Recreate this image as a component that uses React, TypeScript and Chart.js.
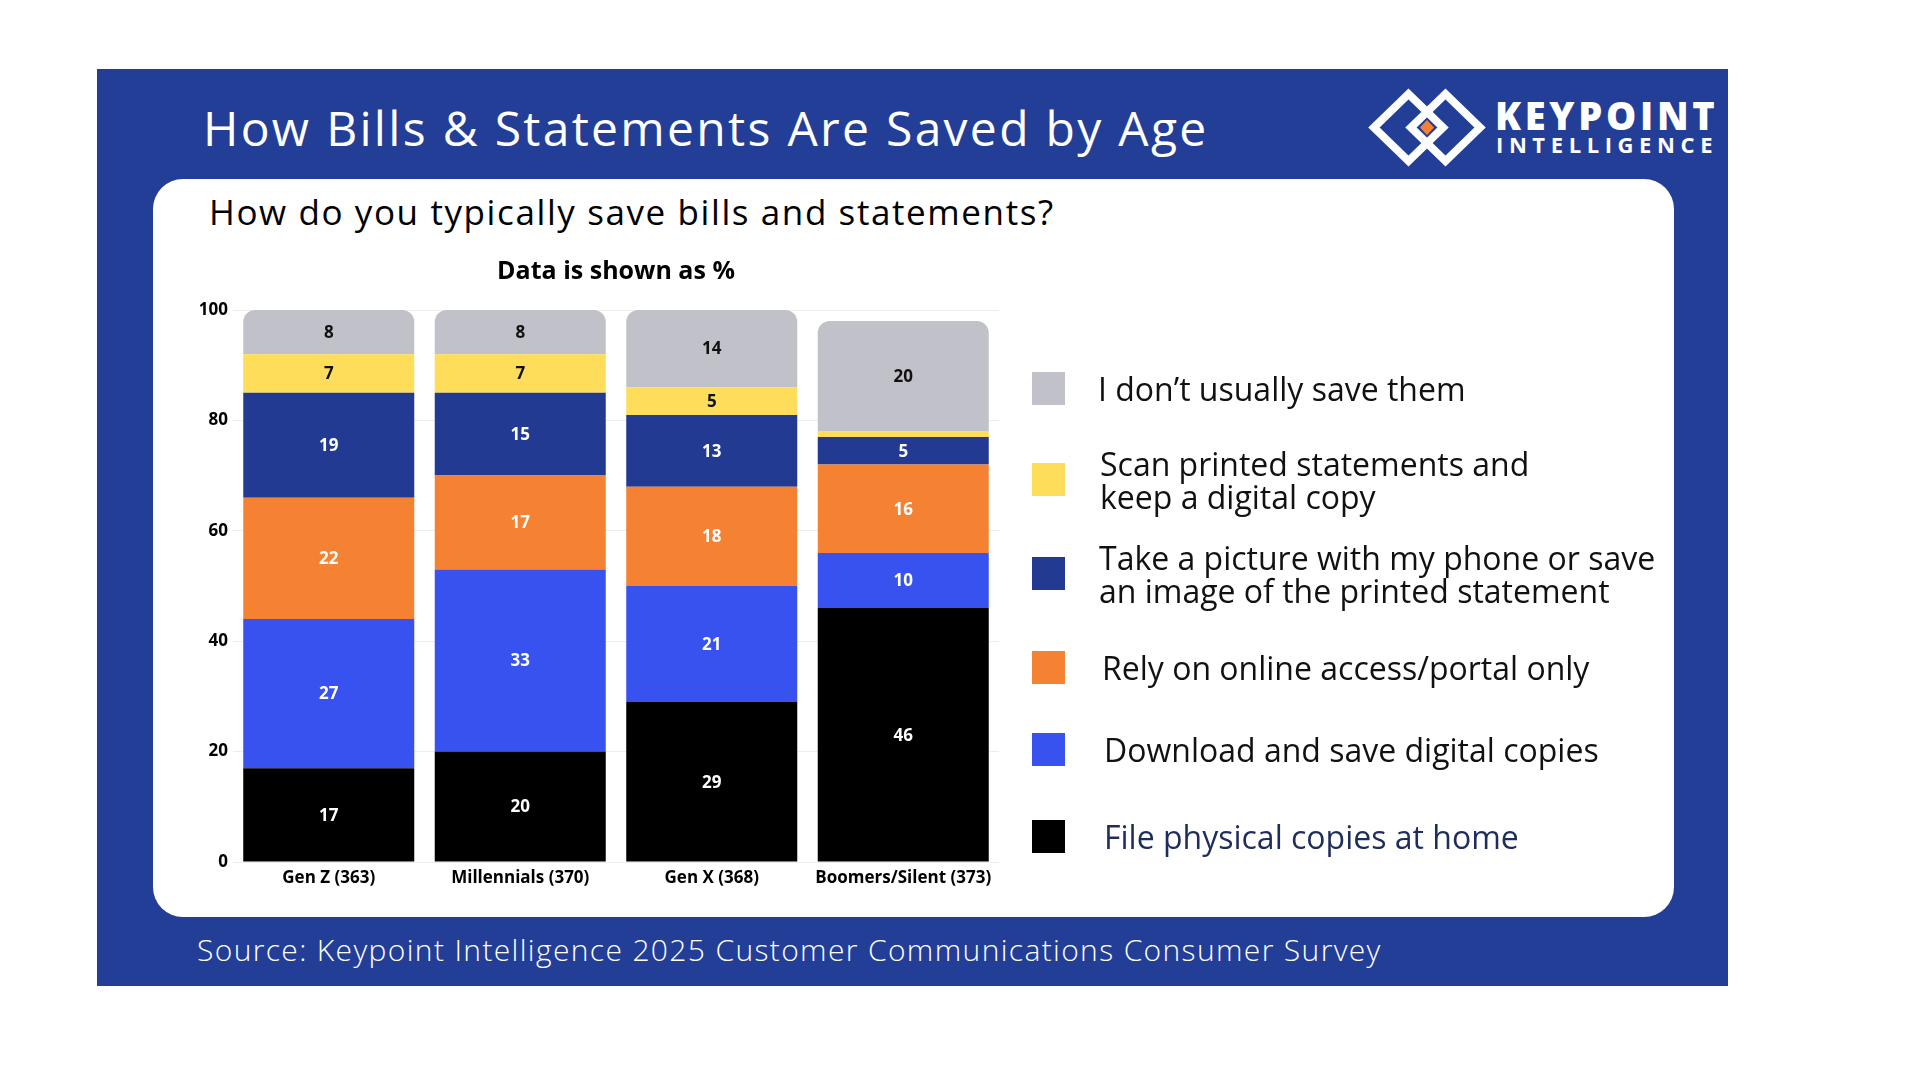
import React, { useEffect, useRef } from "react";
import { Chart, registerables } from "chart.js";

Chart.register(...registerables);

const categories = ["Gen Z (363)", "Millennials (370)", "Gen X (368)", "Boomers/Silent (373)"];
const yTicks = [0, 20, 40, 60, 80, 100];

const filePhysical = [17, 20, 29, 46];
const downloadDigital = [27, 33, 21, 10];
const relyOnline = [22, 17, 18, 16];
const takePicture = [19, 15, 13, 5];
const scanPrinted = [7, 7, 5, 1];
const dontSave = [8, 8, 14, 20];

const chartTitle = "Data is shown as %";

const seriesNames = [
  "File physical copies at home",
  "Download and save digital copies",
  "Rely on online access/portal only",
  "Take a picture with my phone or save an image of the printed statement",
  "Scan printed statements and keep a digital copy",
  "I don\u2019t usually save them",
];

const COLORS = {
  black: "#000000",
  blue: "#3752EF",
  orange: "#F58233",
  navy: "#233A93",
  yellow: "#FEDD5A",
  grey: "#C1C1C9",
};
const PANEL = "#233E96";
const FONT = "'Open Sans', 'Noto Sans', sans-serif";

const legendItems = [
  { lines: ["I don\u2019t usually save them"], color: COLORS.grey, top: 372, textLeft: 1098, textColor: "#111" },
  { lines: ["Scan printed statements and", "keep a digital copy"], color: COLORS.yellow, top: 463, textLeft: 1100, textColor: "#111" },
  { lines: ["Take a picture with my phone or save", "an image of the printed statement"], color: COLORS.navy, top: 557, textLeft: 1099, textColor: "#111" },
  { lines: ["Rely on online access/portal only"], color: COLORS.orange, top: 651, textLeft: 1102, textColor: "#111" },
  { lines: ["Download and save digital copies"], color: COLORS.blue, top: 733, textLeft: 1104, textColor: "#111" },
  { lines: ["File physical copies at home"], color: COLORS.black, top: 820, textLeft: 1104, textColor: "#1F2D5C" },
];

const labelPlugin = {
  id: "segmentLabels",
  afterDatasetsDraw(chart: any) {
    const ctx = chart.ctx;
    ctx.save();
    ctx.font = `bold 17px ${FONT}`;
    ctx.textAlign = "center";
    ctx.textBaseline = "middle";
    chart.data.datasets.forEach((ds: any, di: number) => {
      const meta = chart.getDatasetMeta(di);
      meta.data.forEach((bar: any, i: number) => {
        const v = ds.data[i];
        if (v < 3) return;
        const p = bar.getProps(["x", "y", "base"], true);
        ctx.fillStyle = ds.labelColor;
        ctx.fillText(String(v), p.x, (p.y + p.base) / 2 + 1);
      });
    });
    // chart title centred over the plot area
    const ca = chart.chartArea;
    ctx.font = `bold 25px ${FONT}`;
    ctx.fillStyle = "#000";
    ctx.fillText(chartTitle, (ca.left + ca.right) / 2, 20);
    ctx.restore();
  },
};

function StackedChart() {
  const ref = useRef<HTMLCanvasElement | null>(null);
  useEffect(() => {
    if (!ref.current) return;
    const mk = (label: string, data: number[], color: string, labelColor: string, top = false) => ({
      label,
      data,
      backgroundColor: color,
      labelColor,
      borderWidth: 0,
      barPercentage: 0.893,
      categoryPercentage: 1,
      borderRadius: top ? { topLeft: 12, topRight: 12, bottomLeft: 0, bottomRight: 0 } : 0,
      borderSkipped: "start",
    });
    const chart = new Chart(ref.current, {
      type: "bar",
      data: {
        labels: categories,
        datasets: [
          mk(seriesNames[0], filePhysical, COLORS.black, "#FFFFFF"),
          mk(seriesNames[1], downloadDigital, COLORS.blue, "#FFFFFF"),
          mk(seriesNames[2], relyOnline, COLORS.orange, "#FFFFFF"),
          mk(seriesNames[3], takePicture, COLORS.navy, "#FFFFFF"),
          mk(seriesNames[4], scanPrinted, COLORS.yellow, "#111111"),
          mk(seriesNames[5], dontSave, COLORS.grey, "#111111", true),
        ] as any,
      },
      options: {
        animation: false,
        responsive: false,
        layout: { padding: { left: 0, right: 53, top: 58, bottom: 0 } },
        plugins: {
          legend: { display: false },
          tooltip: { enabled: false },
          title: { display: false },
        },
        scales: {
          x: {
            stacked: true,
            grid: { display: false, drawTicks: false },
            border: { display: false },
            afterFit: (s: any) => {
              s.height = 35;
            },
            ticks: { color: "#000", font: { family: FONT, size: 17, weight: "bold" }, padding: 6 },
          },
          y: {
            stacked: true,
            min: 0,
            max: 100,
            afterBuildTicks: (s: any) => {
              s.ticks = yTicks.map((v) => ({ value: v }));
            },
            afterFit: (s: any) => {
              s.width = 53;
            },
            grid: { color: "#EDEDED", drawTicks: false, lineWidth: 1 },
            border: { display: false },
            ticks: { color: "#000", font: { family: FONT, size: 17, weight: "bold" }, padding: 5 },
          },
        },
      } as any,
      plugins: [labelPlugin],
    });
    return () => chart.destroy();
  }, []);
  return <canvas ref={ref} width={872} height={645} style={{ display: "block" }} />;
}

function Logo() {
  return (
    <div style={{ position: "absolute", left: 1366, top: 86, width: 360, height: 84 }}>
      <svg width={124} height={84} style={{ position: "absolute", left: 0, top: 0 }}>
        <polygon points="42.5,8 77,41.5 42.5,75 8,41.5" fill="none" stroke="#fff" strokeWidth={8} strokeLinejoin="miter" />
        <polygon points="79.5,8 114,41.5 79.5,75 45,41.5" fill="none" stroke="#fff" strokeWidth={8} strokeLinejoin="miter" />
        <polygon points="61,34 68,41.5 61,49 54,41.5" fill="#F58233" />
      </svg>
      <div
        style={{
          position: "absolute",
          left: 129,
          top: 10,
          fontFamily: FONT,
          fontWeight: 800,
          fontSize: 38,
          lineHeight: "38px",
          letterSpacing: 3.7,
          color: "#fff",
          whiteSpace: "nowrap",
        }}
      >
        KEYPOINT
      </div>
      <div
        style={{
          position: "absolute",
          left: 130,
          top: 47,
          fontFamily: FONT,
          fontWeight: 700,
          fontSize: 22,
          lineHeight: "22px",
          letterSpacing: 5.6,
          color: "#fff",
          whiteSpace: "nowrap",
        }}
      >
        INTELLIGENCE
      </div>
    </div>
  );
}

export default function App() {
  return (
    <div style={{ position: "absolute", left: 0, top: 0, width: 1920, height: 1080, background: "#fff", overflow: "hidden" }}>
      <div style={{ position: "absolute", left: 97, top: 69, width: 1631, height: 917, background: PANEL }} />
      <div
        style={{
          position: "absolute",
          left: 203,
          top: 100,
          fontFamily: FONT,
          fontWeight: 500,
          fontSize: 48,
          lineHeight: "56px",
          letterSpacing: 2.3,
          color: "#fff",
          whiteSpace: "nowrap",
        }}
      >
        How Bills &amp; Statements Are Saved by Age
      </div>
      <Logo />
      <div style={{ position: "absolute", left: 153, top: 179, width: 1521, height: 738, background: "#fff", borderRadius: 30 }} />
      <div
        style={{
          position: "absolute",
          left: 209,
          top: 190,
          fontFamily: FONT,
          fontWeight: 500,
          fontSize: 35,
          lineHeight: "44px",
          letterSpacing: 1.6,
          color: "#000",
          whiteSpace: "nowrap",
        }}
      >
        How do you typically save bills and statements?
      </div>
      <div style={{ position: "absolute", left: 180, top: 252 }}>
        <StackedChart />
      </div>
      {legendItems.map((it, i) => (
        <React.Fragment key={i}>
          <div style={{ position: "absolute", left: 1032, top: it.top, width: 33, height: 33, background: it.color }} />
          <div
            style={{
              position: "absolute",
              left: it.textLeft,
              top: it.top + 16.5 - (it.lines.length * 33) / 2,
              fontFamily: FONT,
              fontSize: 32,
              lineHeight: "33px",
              color: it.textColor,
              whiteSpace: "nowrap",
            }}
          >
            {it.lines.map((l, j) => (
              <div key={j}>{l}</div>
            ))}
          </div>
        </React.Fragment>
      ))}
      <div
        style={{
          position: "absolute",
          left: 197,
          top: 932,
          fontFamily: FONT,
          fontWeight: 300,
          fontSize: 30,
          lineHeight: "36px",
          letterSpacing: 1.35,
          color: "#fff",
          whiteSpace: "nowrap",
        }}
      >
        Source: Keypoint Intelligence 2025 Customer Communications Consumer Survey
      </div>
    </div>
  );
}
